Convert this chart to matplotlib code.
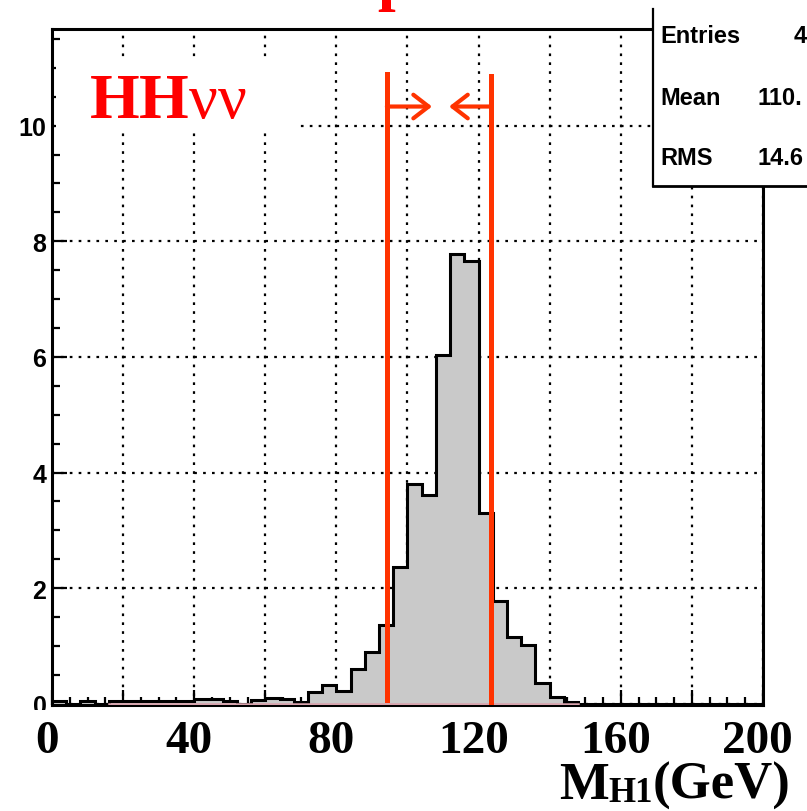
import matplotlib
matplotlib.use('Agg')
import numpy as np
import matplotlib.pyplot as plt
from matplotlib.patches import Rectangle
from matplotlib.ticker import MultipleLocator

# histogram of M_H1, 50 bins of 4 GeV from 0 to 200
bin_edges = np.arange(0, 204, 4)
counts = [0.05, 0.0, 0.05, 0.0, 0.05, 0.05, 0.05, 0.05, 0.05, 0.05,
          0.08, 0.08, 0.05, 0.0, 0.06, 0.10, 0.08, 0.04, 0.20, 0.32,
          0.22, 0.60, 0.89, 1.37, 2.36, 3.80, 3.62, 6.03, 7.78, 7.66,
          3.30, 1.78, 1.16, 1.02, 0.36, 0.12, 0.04, 0.0, 0.0, 0.0,
          0.0, 0.0, 0.0, 0.0, 0.0, 0.0, 0.0, 0.0, 0.0, 0.0]
pink_range = [16, 148]

# mass window
window = [94.2, 123.6]
window_top = [10.9, 10.85]
arrow_tips = [106.9, 111.7]
arrow_y = 10.33

xtick_labels = [0, 40, 80, 120, 160, 200]
stats_names = ['Entries', 'Mean', 'RMS']
stats_values = ['4', '110.', '14.6']

red = '#ff3300'

plt.rcParams['mathtext.fontset'] = 'custom'
plt.rcParams['mathtext.rm'] = 'Liberation Serif'
plt.rcParams['mathtext.bf'] = 'Liberation Serif:bold'
plt.rcParams['mathtext.it'] = 'Liberation Serif:italic'

fig = plt.figure(figsize=(8.07, 8.12), dpi=100)
ax = fig.add_axes([0.0644, 0.1305, 0.8811, 0.8325])
ax.set_axisbelow(True)

ax.stairs(counts, bin_edges, fill=True, color='#c9c9c9', zorder=1)
ax.stairs(counts, bin_edges, color='black', lw=2.2, zorder=2)
ax.plot(pink_range, [0.005, 0.005], color='#d9a3ad', lw=1.8, zorder=2.6)

ax.set_xlim(0, 200)
ax.set_ylim(-0.02, 11.67)

ax.xaxis.set_major_locator(MultipleLocator(20))
ax.xaxis.set_minor_locator(MultipleLocator(5))
ax.yaxis.set_major_locator(MultipleLocator(2))
ax.yaxis.set_minor_locator(MultipleLocator(0.5))
ax.tick_params(which='both', direction='in', top=False, right=False, width=1.6)
ax.tick_params(which='major', length=11)
ax.tick_params(which='minor', length=6)
ax.tick_params(axis='x', labelbottom=False)
ax.tick_params(axis='y', pad=4)
for lab in ax.get_yticklabels():
    lab.set_fontfamily('Liberation Sans')
    lab.set_fontweight('bold')
    lab.set_fontsize(18)
ax.grid(True, which='major', color='black', linestyle=(0, (1.2, 2.8)), lw=1.6)
for s in ax.spines.values():
    s.set_linewidth(2.2)

# white overlay below the x axis (covers the lower half of the y "0")
ax.add_patch(Rectangle((-0.1, -0.2), 1.2, 0.1926, transform=ax.transAxes,
                       facecolor='white', edgecolor='none', clip_on=False, zorder=3))
for v in xtick_labels:
    ax.text(v - 1.5, -0.0695, str(v), transform=ax.get_xaxis_transform(),
            ha='center', va='baseline', fontsize=34, fontweight='bold',
            family='Liberation Serif', zorder=4, clip_on=False)

# axis title M_H1(GeV), built from pieces so the subscript stays small
r = fig.canvas.get_renderer()
bot_y = 0.003
t_gev = fig.text(0.980, bot_y, '(GeV)', ha='right', va='bottom', fontsize=38,
                 fontweight='bold', family='Liberation Serif')
x_right = t_gev.get_window_extent(r).x0 / fig.bbox.width
t_sub = fig.text(x_right, bot_y, 'H1', ha='right', va='bottom', fontsize=25,
                 fontweight='bold', family='Liberation Serif')
x_right = t_sub.get_window_extent(r).x0 / fig.bbox.width
fig.text(x_right, bot_y, 'M', ha='right', va='bottom', fontsize=38,
         fontweight='bold', family='Liberation Serif')

# label with white box
ax.add_patch(Rectangle((1, 9.88), 68, 1.22, facecolor='white', edgecolor='none', zorder=1.2))
ax.text(0.052, 0.870, r'HH$\mathrm{\nu\nu}$', transform=ax.transAxes, ha='left',
        va='baseline', color='red', fontsize=46, fontweight='bold',
        family='Liberation Serif', zorder=5)

# mass window lines and arrows
ax.plot([window[0], window[0]], [0.06, window_top[0]], color=red, lw=3.6, zorder=3)
ax.plot([window[1], window[1]], [0.0, window_top[1]], color=red, lw=3.6, zorder=3)
for x0, x1 in zip(window, arrow_tips):
    ax.annotate('', xy=(x1, arrow_y), xytext=(x0, arrow_y),
                arrowprops=dict(arrowstyle='->,head_length=1.1,head_width=0.85',
                                color=red, lw=3, shrinkA=0, shrinkB=0), zorder=3)

# stats box
fig.patches.append(Rectangle((0.809, 0.770), 0.3, 0.3, transform=fig.transFigure,
                             facecolor='white', edgecolor='none', zorder=6))
fig.add_artist(plt.Line2D([0.809, 0.809], [0.770, 0.988], color='black', lw=1.6, zorder=7))
fig.add_artist(plt.Line2D([0.809, 1.0], [0.770, 0.770], color='black', lw=2.0, zorder=7))
for i, (n, v) in enumerate(zip(stats_names, stats_values)):
    yy = [0.955, 0.879, 0.805][i]
    fig.text(0.818, yy, n, ha='left', va='center', fontsize=17, fontweight='bold',
             family='Liberation Sans', zorder=8)
    fig.text(0.983 if i == 0 else 0.939, yy, v, ha='left', va='center', fontsize=17,
             fontweight='bold', family='Liberation Sans', zorder=8)

# cut-off title letter at the very top
fig.text(0.468, 1.0025, 'p', ha='left', va='baseline', color='red', fontsize=46,
         fontweight='bold', family='Liberation Serif')

fig.savefig('out.png', dpi=100)
